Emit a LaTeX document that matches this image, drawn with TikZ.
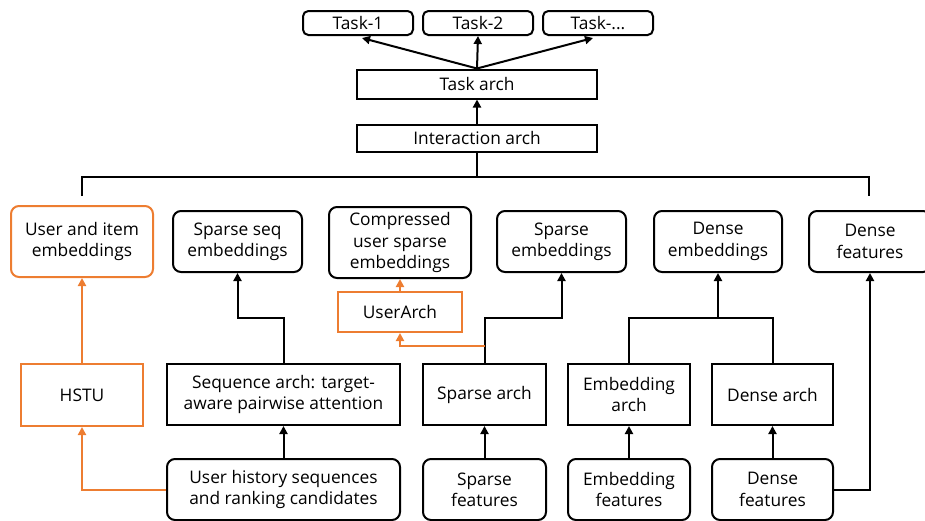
\documentclass[tikz,border=0pt]{standalone}
\usepackage{fontspec}
\setmainfont{Open Sans}
\usetikzlibrary{arrows.meta, positioning, calc}
\definecolor{hstuorange}{RGB}{237,125,49}

\tikzset{
  box/.style={draw, line width=1.5pt, inner sep=0pt, align=center, font=\fontsize{13}{16}\selectfont},
  rbox/.style={box, rounded corners=6pt},
  obox/.style={box, draw=hstuorange},
  arr/.style={line width=1.5pt, -{Triangle[width=6pt,length=6pt]}},
  oarr/.style={arr, draw=hstuorange},
}

\begin{document}
\begin{tikzpicture}[x=0.75pt, y=-0.75pt]
\useasboundingbox (0,0) rectangle (925,521);

% Tasks on top
\node[rbox, rounded corners=4pt, minimum width=82.5pt, minimum height=18pt] (task1) at (358,23) {Task-1};
\node[rbox, rounded corners=4pt, minimum width=82.5pt, minimum height=18pt] (task2) at (478,23) {Task-2};
\node[rbox, rounded corners=4pt, minimum width=82.5pt, minimum height=18pt] (task3) at (598,23) {Task-...};

% Task and interaction archs
\node[box, minimum width=180pt, minimum height=21.75pt] (taskarch) at (477,84) {Task arch};
\node[box, minimum width=180pt, minimum height=20.25pt] (inter) at (477,138) {Interaction arch};

% Embedding row
\node[rbox, draw=hstuorange, minimum width=106.5pt, minimum height=53.25pt] (uie) at (82,241.5) {User and item\\embeddings};
\node[rbox, minimum width=96.75pt, minimum height=45.75pt] (sse) at (237.5,241.5) {Sparse seq\\embeddings};
\node[rbox, minimum width=106.5pt, minimum height=53.25pt] (cue) at (400,242.5) {Compressed\\user sparse\\embeddings};
\node[rbox, minimum width=96.75pt, minimum height=45.75pt] (se) at (561.5,241.5) {Sparse\\embeddings};
\node[rbox, minimum width=96pt, minimum height=45.75pt] (de) at (718,241.5) {Dense\\embeddings};
\node[rbox, minimum width=91.5pt, minimum height=45.75pt] (dft) at (870,241.5) {Dense\\features};

% Archs
\node[obox, minimum width=93pt, minimum height=30pt] (userarch) at (400,312) {UserArch};
\node[obox, minimum width=91.5pt, minimum height=46.5pt] (hstu) at (82,395) {HSTU};
\node[box, minimum width=174.75pt, minimum height=45.75pt] (seqarch) at (283.5,394.5) {Sequence arch: target-\\aware pairwise attention};
\node[box, minimum width=92.25pt, minimum height=45.75pt] (sparch) at (484.5,394.5) {Sparse arch};
\node[box, minimum width=91.5pt, minimum height=45.75pt] (embarch) at (629,394.5) {Embedding\\arch};
\node[box, minimum width=90.75pt, minimum height=45.75pt] (denarch) at (772.5,394.5) {Dense arch};

% Input features
\node[rbox, minimum width=174.75pt, minimum height=45.75pt] (uhs) at (283.5,489.5) {User history sequences\\and ranking candidates};
\node[rbox, minimum width=92.25pt, minimum height=45.75pt] (spf) at (484.5,489.5) {Sparse\\features};
\node[rbox, minimum width=91.5pt, minimum height=45.75pt] (embf) at (629,489.5) {Embedding\\features};
\node[rbox, minimum width=90.75pt, minimum height=45.75pt] (denf) at (772.5,489.5) {Dense\\features};

% Top connectors
\draw[arr] (taskarch.north) -- ($(task1.south)+(4,2)$);
\draw[arr] (taskarch.north) -- (task2.south);
\draw[arr] (taskarch.north) -- ($(task3.south)+(-5,2)$);
\draw[arr] (inter.north) -- (taskarch.south);

% Bus below interaction arch
\coordinate (busL) at (82,177);
\coordinate (busR) at (869,177);
\coordinate (dropL) at (82,196);
\coordinate (dropR) at (869,196);
\draw[line width=1.5pt] (dropL) -- (busL) -- (busR) -- (dropR);
\draw[line width=1.5pt] (inter.south) -- (inter.south |- busL);

% HSTU path
\draw[oarr] (uhs.west) -| (hstu.south);
\draw[oarr] (hstu.north) -- (uie.south);

% Sequence path
\draw[arr] (uhs.north) -- (seqarch.south);
\draw[arr] (seqarch.north) |- ($(sse.south)+(0,45)$) -- (sse.south);

% Sparse path
\draw[arr] (spf.north) -- (sparch.south);
\draw[arr] (sparch.north) |- ($(se.south)+(0,45)$) -- (se.south);
\draw[oarr] ($(sparch.north)+(0,-17)$) -| (userarch.south);
\draw[oarr] (userarch.north) -- (cue.south);

% Embedding and dense path
\coordinate (dej) at ($(de.south)+(0,45)$);
\draw[arr] (embf.north) -- (embarch.south);
\draw[arr] (denf.north) -- (denarch.south);
\draw[line width=1.5pt] (embarch.north) |- (dej) -| (denarch.north);
\draw[arr] (dej) -- (de.south);
\draw[arr] (denf.east) -| (dft.south);

\end{tikzpicture}
\end{document}
